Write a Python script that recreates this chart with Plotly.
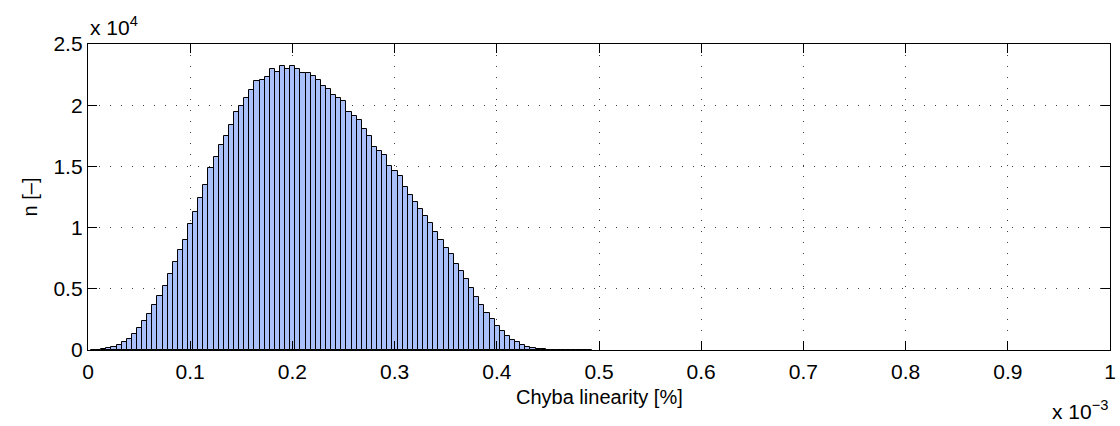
import plotly.graph_objects as go

# Bin centres (units of 1e-3 %) and counts
bin_centers_e3 = [
    0.0054, 0.0104, 0.0154, 0.0204, 0.0254, 0.0304, 0.0354, 0.0404, 0.0454, 0.0504,
    0.0554, 0.0604, 0.0654, 0.0704, 0.0754, 0.0804, 0.0854, 0.0904, 0.0954, 0.1004,
    0.1054, 0.1104, 0.1154, 0.1204, 0.1254, 0.1304, 0.1354, 0.1404, 0.1454, 0.1504,
    0.1554, 0.1604, 0.1654, 0.1704, 0.1754, 0.1804, 0.1854, 0.1904, 0.1954, 0.2004,
    0.2054, 0.2104, 0.2154, 0.2204, 0.2254, 0.2304, 0.2354, 0.2404, 0.2454, 0.2504,
    0.2554, 0.2604, 0.2654, 0.2704, 0.2754, 0.2804, 0.2854, 0.2904, 0.2954, 0.3004,
    0.3054, 0.3104, 0.3154, 0.3204, 0.3254, 0.3304, 0.3354, 0.3404, 0.3454, 0.3504,
    0.3554, 0.3604, 0.3654, 0.3704, 0.3754, 0.3804, 0.3854, 0.3904, 0.3954, 0.4004,
    0.4054, 0.4104, 0.4154, 0.4204, 0.4254, 0.4304, 0.4354, 0.4404, 0.4454, 0.4504,
    0.4554, 0.4604, 0.4654, 0.4704, 0.4754, 0.4804, 0.4854, 0.4904,
]
counts = [
    10, 30, 80, 160, 270, 440, 630, 930, 1310, 1820,
    2370, 2940, 3680, 4410, 5230, 6210, 7160, 8200, 9010, 10270,
    11250, 12440, 13450, 14840, 15770, 16720, 17450, 18380, 19470, 19910,
    20590, 21210, 21950, 22030, 22330, 22980, 22740, 23200, 22930, 23230,
    22980, 22600, 22660, 22410, 22060, 21570, 21350, 20830, 20590, 20370,
    19420, 19090, 18760, 18050, 17450, 16610, 16230, 15930, 15030, 14620,
    14240, 13290, 12690, 12090, 11550, 10950, 10370, 9670, 8960, 8360,
    7810, 7030, 6430, 5770, 5040, 4360, 3700, 3050, 2510, 1960,
    1550, 1170, 850, 630, 440, 270, 190, 110, 50, 30,
    20, 15, 10, 5, 3, 2, 1, 1,
]
bin_width_e3 = 0.005

x_tick_vals_e3 = [0, 0.1, 0.2, 0.3, 0.4, 0.5, 0.6, 0.7, 0.8, 0.9, 1.0]
x_tick_text = ["0", "0.1", "0.2", "0.3", "0.4", "0.5", "0.6", "0.7", "0.8", "0.9", "1"]
y_tick_vals = [0, 5000, 10000, 15000, 20000, 25000]
y_tick_text = ["0", "0.5", "1", "1.5", "2", "2.5"]

x_values = [c * 1e-3 for c in bin_centers_e3]
x_ticks = [v * 1e-3 for v in x_tick_vals_e3]

FONT = "Liberation Sans, Arial, Helvetica, sans-serif"

fig = go.Figure()
fig.add_trace(go.Bar(
    x=x_values,
    y=counts,
    width=bin_width_e3 * 1e-3,
    marker=dict(color="rgb(170,192,250)", line=dict(color="black", width=1)),
    showlegend=False,
    hoverinfo="skip",
))

axis_common = dict(
    showline=True, linecolor="black", linewidth=1.3, mirror="ticks",
    ticks="inside", ticklen=9, tickwidth=1, tickcolor="black",
    showgrid=True, gridcolor="rgba(40,40,40,0.9)", gridwidth=1, griddash="1px,10px",
    zeroline=False, automargin=False,
    tickfont=dict(family=FONT, size=21, color="black"),
)

fig.update_xaxes(
    range=[0, 1e-3], tickmode="array", tickvals=x_ticks, ticktext=x_tick_text,
    ticklabelstandoff=3,
    **axis_common,
)
fig.update_yaxes(
    range=[0, 25000], tickmode="array", tickvals=y_tick_vals, ticktext=y_tick_text,
    title=dict(text="n [–]", font=dict(family=FONT, size=20, color="black"), standoff=10),
    **axis_common,
)

fig.add_annotation(
    text="Chyba linearity [%]", xref="paper", yref="paper", x=0.5, y=0,
    xanchor="center", yanchor="middle", yshift=-47, showarrow=False,
    font=dict(family=FONT, size=20, color="black"),
)
fig.add_annotation(
    text="x 10<sup>4</sup>", xref="paper", yref="paper", x=0, y=1.0,
    xanchor="left", yanchor="bottom", yshift=3, showarrow=False,
    font=dict(family=FONT, size=21, color="black"),
)
fig.add_annotation(
    text="x 10<sup>−3</sup>", xref="paper", yref="paper", x=1.0, y=0,
    xanchor="right", yanchor="top", yshift=-45, showarrow=False,
    font=dict(family=FONT, size=21, color="black"),
)

fig.update_layout(
    width=1120, height=426,
    margin=dict(l=88, r=10, t=44, b=76),
    plot_bgcolor="white", paper_bgcolor="white",
    bargap=0,
    hovermode=False,
    font=dict(family=FONT, size=20, color="black"),
)

fig.write_html(
    "out.html",
    config={"displayModeBar": False},
    post_script="document.body.style.margin='0';document.body.style.padding='0';",
)
